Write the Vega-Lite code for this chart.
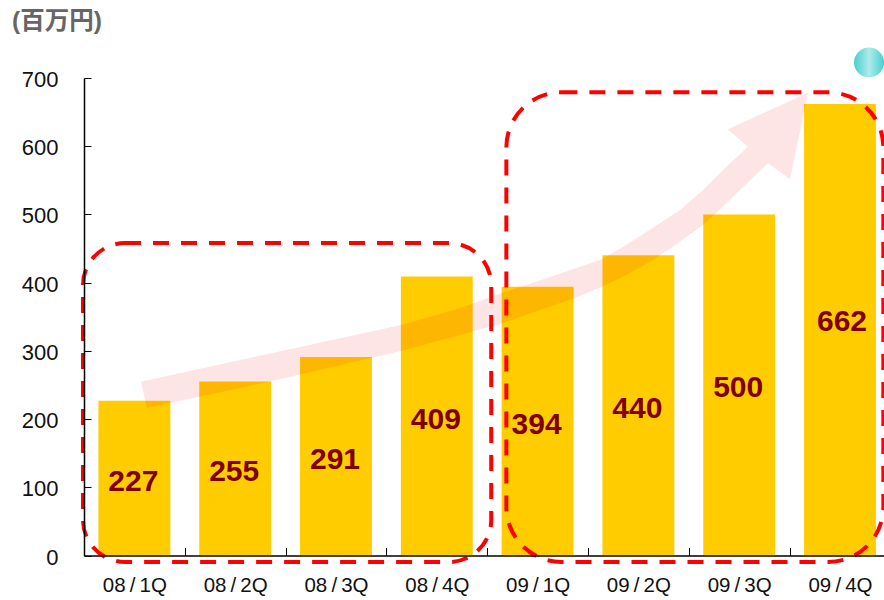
{
"$schema":"https://vega.github.io/schema/vega-lite/v6.json",
"width":800,"height":477.5,
"autosize":{"type":"none"},
"padding":{"left":84,"top":78,"right":0,"bottom":44.5},
"background":"white",
"title":{"text":"(百万円)","anchor":"start","frame":"group","dx":-72,"dy":22,"offset":16,"baseline":"alphabetic","font":"Liberation Sans, Noto Sans CJK JP","fontSize":24.5,"fontWeight":"bold","color":"#666666"},
"config":{"view":{"stroke":null}},
"datasets":{
"bars":[
{"quarter":"08/1Q","sales":227},{"quarter":"08/2Q","sales":255},{"quarter":"08/3Q","sales":291},{"quarter":"08/4Q","sales":409},
{"quarter":"09/1Q","sales":394},{"quarter":"09/2Q","sales":440},{"quarter":"09/3Q","sales":500},{"quarter":"09/4Q","sales":662}],
"arrow":[
{"n":1,"q":0.565,"v":254.8},{"n":2,"q":1.141,"v":273.4},{"n":3,"q":1.845,"v":296.1},{"n":4,"q":3.145,"v":337.9},{"n":5,"q":3.73,"v":362.4},{"n":6,"q":4.147,"v":384.8},{"n":7,"q":4.474,"v":401},{"n":8,"q":5.119,"v":433.2},{"n":9,"q":5.347,"v":452.3},{"n":10,"q":5.685,"v":484.5},{"n":11,"q":5.913,"v":506.5},{"n":12,"q":6.141,"v":535.8},{"n":13,"q":6.339,"v":565.2},{"n":14,"q":6.587,"v":599.3},
{"n":15,"q":6.386,"v":624.8},{"n":16,"q":7.183,"v":678.5},{"n":17,"q":7.004,"v":551.5},{"n":18,"q":6.786,"v":575},
{"n":19,"q":6.508,"v":535.8},{"n":20,"q":6.26,"v":500.6},{"n":21,"q":6.141,"v":484.5},{"n":22,"q":5.843,"v":452.7},{"n":23,"q":5.615,"v":430.7},{"n":24,"q":5.347,"v":408.7},{"n":25,"q":5.139,"v":394},{"n":26,"q":4.861,"v":377},{"n":27,"q":4.147,"v":340.4},{"n":28,"q":3.73,"v":323.2},{"n":29,"q":3.145,"v":299.8},{"n":30,"q":1.865,"v":255.8},{"n":31,"q":1.141,"v":232.8},{"n":32,"q":0.622,"v":216.2}],
"box08":[{"q0":-0.01,"q1":4.04,"v0":-9.5,"v1":458}],
"box09":[{"q0":4.19,"q1":7.93,"v0":-9.5,"v1":679}],
"dot":[{"q":7.788,"v":722.7}]
},
"layer":[
{"data":{"name":"bars"},
 "mark":{"type":"bar","color":"#FFCC00"},
 "encoding":{
  "x":{"field":"quarter","type":"nominal","sort":null,"title":null,
   "scale":{"range":[0,806.4],"paddingInner":0.287,"paddingOuter":0.1435},
   "axis":{"zindex":1,"labelAngle":0,"ticks":true,"tickBand":"center","tickOffset":50.4,"labelOffset":-50.4,"tickSize":-8,"tickColor":"#000","tickWidth":1,"tickOpacity":1,"domainColor":"#000","domainWidth":1.5,"labelPadding":28,"labelFont":"Liberation Sans","labelFontSize":20.5,"labelColor":"#111","labelExpr":"replace(datum.label,'/','\u2009/\u2009')"}},
  "y":{"field":"sales","type":"quantitative","title":null,
   "scale":{"domain":[0,700],"nice":false},
   "axis":{"zindex":1,"values":[0,100,200,300,400,500,600,700],"grid":false,"tickSize":-7,"tickColor":"#000","tickWidth":1,"domainColor":"#000","domainWidth":1.5,"labelPadding":33,"labelOffset":1.5,"labelFont":"Liberation Sans","labelFontSize":22,"labelColor":"#111"}}
 }},
{"data":{"name":"arrow"},
 "mark":{"type":"line","fill":"#EE1111","fillOpacity":0.11,"stroke":null,"strokeWidth":0},
 "encoding":{
  "x":{"field":"q","type":"quantitative","scale":{"domain":[0,8],"range":[0,806.4],"nice":false,"zero":false},"axis":null},
  "y":{"field":"v","type":"quantitative","scale":{"domain":[0,700],"nice":false},"axis":null},
  "order":{"field":"n","type":"quantitative"}
 }},
{"data":{"name":"box08"},
 "mark":{"type":"rect","fill":null,"stroke":"#FF0000","strokeWidth":4,"strokeDash":[16,12],"cornerRadius":42},
 "encoding":{
  "x":{"field":"q0","type":"quantitative","scale":{"domain":[0,8],"range":[0,806.4],"nice":false,"zero":false},"axis":null},
  "x2":{"field":"q1"},
  "y":{"field":"v0","type":"quantitative","scale":{"domain":[0,700],"nice":false},"axis":null},
  "y2":{"field":"v1"}
 }},
{"data":{"name":"box09"},
 "mark":{"type":"rect","fill":null,"stroke":"#FF0000","strokeWidth":4,"strokeDash":[16,12],"cornerRadius":55},
 "encoding":{
  "x":{"field":"q0","type":"quantitative","scale":{"domain":[0,8],"range":[0,806.4],"nice":false,"zero":false},"axis":null},
  "x2":{"field":"q1"},
  "y":{"field":"v0","type":"quantitative","scale":{"domain":[0,700],"nice":false},"axis":null},
  "y2":{"field":"v1"}
 }},
{"data":{"name":"dot"},
 "mark":{"type":"point","filled":true,"opacity":1,"size":900,"fill":{"gradient":"linear","x1":0,"y1":0,"x2":1,"y2":0,"stops":[{"offset":0,"color":"#48CFCF"},{"offset":0.5,"color":"#AEEBEB"},{"offset":1,"color":"#48CFCF"}]}},
 "encoding":{
  "x":{"field":"q","type":"quantitative","scale":{"domain":[0,8],"range":[0,806.4],"nice":false,"zero":false},"axis":null},
  "y":{"field":"v","type":"quantitative","scale":{"domain":[0,700],"nice":false},"axis":null}
 }},
{"data":{"name":"bars"},
 "transform":[{"filter":"datum.sales < 600"}],
 "mark":{"type":"text","font":"Liberation Sans","fontSize":30,"fontWeight":"bold","color":"#800000","baseline":"middle","dy":3.5,"dx":-1},
 "encoding":{
  "x":{"field":"quarter","type":"nominal","sort":null,"scale":{"domain":["08/1Q","08/2Q","08/3Q","08/4Q","09/1Q","09/2Q","09/3Q","09/4Q"],"range":[0,806.4],"paddingInner":0.287,"paddingOuter":0.1435},"axis":null},
  "y":{"field":"sales","type":"quantitative","scale":{"domain":[0,1400],"nice":false},"axis":null},
  "text":{"field":"sales","type":"quantitative"}
 }},
{"data":{"name":"bars"},
 "transform":[{"filter":"datum.sales >= 600"}],
 "mark":{"type":"text","font":"Liberation Sans","fontSize":30,"fontWeight":"bold","color":"#800000","baseline":"middle","dy":-8,"dx":2},
 "encoding":{
  "x":{"field":"quarter","type":"nominal","sort":null,"scale":{"domain":["08/1Q","08/2Q","08/3Q","08/4Q","09/1Q","09/2Q","09/3Q","09/4Q"],"range":[0,806.4],"paddingInner":0.287,"paddingOuter":0.1435},"axis":null},
  "y":{"field":"sales","type":"quantitative","scale":{"domain":[0,1400],"nice":false},"axis":null},
  "text":{"field":"sales","type":"quantitative"}
 }}
],
"resolve":{"scale":{"x":"independent","y":"independent"},"axis":{"x":"independent","y":"independent"}}
}
